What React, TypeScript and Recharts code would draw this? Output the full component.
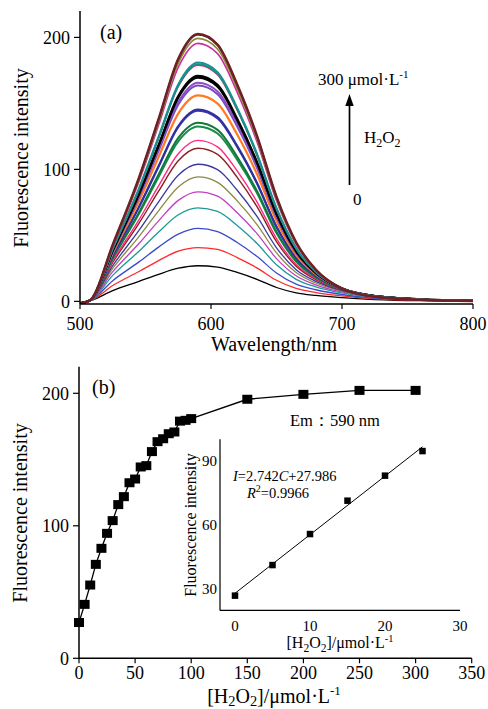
import React from 'react';
import { LineChart, Line, XAxis, YAxis } from 'recharts';

// ---------- (a) emission spectra ----------
const wavelengths = [500, 508, 525, 545, 560, 575, 590, 605, 620, 635, 650, 665, 680, 700, 725, 760, 800];

const spectra: number[][] = [
  [-1, 0.5, 8.1, 15.1, 20.5, 25.1, 27, 25.9, 21.9, 16.7, 10.5, 6.5, 4.5, 2.8, 1.4, 0.5, 0.2],
  [-1, 0.5, 12.0, 22.6, 30.9, 38.0, 40.7, 39.4, 33.2, 25.4, 16.0, 9.8, 6.7, 4.1, 1.9, 0.8, 0.3],
  [-1.1, 0.6, 15.7, 29.9, 41.1, 50.9, 55.3, 52.8, 44.6, 34.1, 21.5, 13.0, 8.8, 5.2, 2.5, 1.0, 0.3],
  [-1.1, 0.6, 19.7, 38.0, 52.5, 65.6, 70.9, 68.2, 57.5, 44.0, 27.7, 16.7, 11.0, 6.4, 3.0, 1.2, 0.4],
  [-1.2, 0.7, 22.5, 43.8, 61.0, 76.5, 83, 79.7, 67.2, 51.5, 32.4, 19.4, 12.5, 7.1, 3.3, 1.3, 0.4],
  [-1.2, 0.7, 25.0, 49.1, 68.6, 86.6, 94.3, 90.2, 76.1, 58.3, 36.7, 21.8, 13.9, 7.7, 3.5, 1.4, 0.5],
  [-1.3, 0.7, 27.1, 53.7, 75.4, 95.6, 103.9, 99.8, 84.2, 64.5, 40.6, 24.0, 15.2, 8.2, 3.7, 1.4, 0.5],
  [-1.3, 0.8, 29.5, 59.1, 83.5, 106.5, 116, 111.4, 94.0, 71.9, 45.2, 26.7, 16.5, 8.7, 3.9, 1.5, 0.5],
  [-1.3, 0.8, 30.6, 61.7, 87.5, 111.9, 122, 117.1, 98.8, 75.6, 47.6, 27.9, 17.2, 8.9, 3.9, 1.5, 0.5],
  [-1.4, 0.8, 32.6, 66.3, 94.3, 121.3, 132.5, 127.2, 107.3, 82.2, 51.7, 30.2, 18.2, 9.3, 4.0, 1.5, 0.5],
  [-1.4, 0.8, 33.1, 67.4, 96.2, 123.8, 135.3, 129.9, 109.6, 83.9, 52.8, 30.8, 18.5, 9.3, 4.0, 1.5, 0.5],
  [-1.4, 0.9, 34.7, 71.2, 102.0, 132.0, 144.4, 138.6, 117.0, 89.5, 56.3, 32.7, 19.4, 9.5, 4.0, 1.5, 0.5],
  [-1.4, 0.9, 34.8, 71.6, 102.7, 132.9, 145.4, 139.6, 117.8, 90.1, 56.7, 32.9, 19.5, 9.5, 4.0, 1.5, 0.5],
  [-1.5, 0.9, 36.5, 75.9, 109.4, 142.3, 156, 149.8, 126.4, 96.7, 60.8, 35.1, 20.4, 9.7, 4.0, 1.5, 0.4],
  [-1.5, 0.9, 37.6, 78.9, 114.1, 149.0, 163.5, 157.0, 132.4, 101.4, 63.8, 36.7, 21.1, 9.8, 4.0, 1.5, 0.4],
  [-1.5, 0.9, 37.9, 79.7, 115.5, 151.0, 165.7, 159.1, 134.2, 102.7, 64.6, 37.2, 21.3, 9.8, 4.0, 1.5, 0.4],
  [-1.5, 1.0, 38.5, 81.2, 117.8, 154.3, 169.5, 162.7, 137.3, 105.1, 66.1, 37.9, 21.6, 9.8, 3.9, 1.5, 0.4],
  [-1.5, 1.0, 38.7, 81.7, 118.6, 155.5, 170.8, 164.0, 138.3, 105.9, 66.6, 38.2, 21.7, 9.8, 3.9, 1.5, 0.4],
  [-1.6, 1.0, 39.8, 84.8, 123.7, 162.8, 179, 171.8, 145.0, 111.0, 69.8, 39.9, 22.3, 9.8, 3.8, 1.4, 0.4],
  [-1.6, 1.0, 39.9, 85.0, 124.0, 163.3, 179.6, 172.4, 145.5, 111.4, 70.0, 40.0, 22.4, 9.8, 3.8, 1.4, 0.4],
  [-1.6, 1.0, 40.0, 85.5, 124.8, 164.4, 180.9, 173.7, 146.5, 112.2, 70.6, 40.3, 22.5, 9.8, 3.8, 1.4, 0.4],
  [-1.7, 1.0, 41.8, 90.8, 133.6, 177.3, 195.5, 187.7, 158.4, 121.2, 76.2, 43.2, 23.5, 9.7, 3.6, 1.3, 0.3],
  [-1.7, 1.0, 42.2, 92.1, 135.8, 180.6, 199.2, 191.2, 161.4, 123.5, 77.7, 43.9, 23.7, 9.6, 3.6, 1.3, 0.3],
  [-1.7, 1.0, 42.6, 93.1, 137.9, 183.2, 202.2, 194.1, 163.8, 125.4, 78.9, 44.5, 23.9, 9.6, 3.5, 1.2, 0.3],
  [-1.8, 1.0, 43.0, 93.8, 138.3, 183.8, 202.6, 194.5, 164.3, 125.8, 79.3, 44.8, 24.1, 9.7, 3.5, 1.2, 0.3],
];

const spectrumColors = [
  '#000000', '#ff2a2a', '#3a4ac8', '#1a9a9a', '#c040c0', '#8a8a40', '#3a3a9a', '#8a2020',
  '#ff2a80', '#1a8a4a', '#107a3a', '#3a3aaa', '#3030a0', '#ff7a20', '#7a4ab8', '#8a50c8',
  '#000000', '#000000', '#e03050', '#208a90', '#1a9090', '#cc30a0', '#8a8a30', '#303080', '#702020',
];
const spectrumWidths = [
  1.3, 1.3, 1.3, 1.3, 1.3, 1.3, 1.3, 1.4, 1.4, 2, 2, 2, 2, 2.2, 2, 2,
  2.2, 2.2, 1.6, 2, 2, 1.6, 1.8, 1.8, 2.4,
];

const topXTicks = [500, 600, 700, 800];
const topYTicks = [0, 100, 200];

// ---------- (b) intensity vs concentration ----------
const concentrations = [0, 5, 10, 15, 20, 25, 30, 35, 40, 45, 50, 55, 60, 65, 70, 75, 80, 85, 90, 95, 100, 150, 200, 250, 300];
const intensities = [27, 40.7, 55.3, 70.9, 83, 94.3, 103.9, 116, 122, 132.5, 135.3, 144.4, 145.4, 156, 163.5, 165.7, 169.5, 170.8, 179, 179.6, 180.9, 195.5, 199.2, 202.2, 202.2];
const bottomXTicks = [0, 50, 100, 150, 200, 250, 300, 350];
const bottomYTicks = [0, 100, 200];

// ---------- inset ----------
const insetConc = [0, 5, 10, 15, 20, 25];
const insetIntensity = [26.9, 41.2, 55.7, 71.3, 83.0, 94.5];
const fitConc = [0, 25];
const fitIntensity = [28.0, 96.5];
const insetXTicks = [0, 10, 20, 30];
const insetYTicks = [30, 60, 90];

const FONT = 'Liberation Serif, DejaVu Serif, serif';

const spectrumData = wavelengths.map((wl, i) => {
  const row: Record<string, number> = { wl };
  spectra.forEach((s, k) => {
    row['s' + k] = s[i];
  });
  return row;
});
const bottomData = concentrations.map((c, i) => ({ c, v: intensities[i] }));
const insetData = insetConc.map((c, i) => ({ c, v: insetIntensity[i] }));
const fitData = fitConc.map((c, i) => ({ c, v: fitIntensity[i] }));

const axisLine = { stroke: '#000', strokeWidth: 1.5 };
const tickLine = { stroke: '#000', strokeWidth: 1.2 };
const bigTick = { fill: '#000', fontSize: 18, style: { fontFamily: FONT } };
const smallTick = { fill: '#000', fontSize: 15, style: { fontFamily: FONT } };
const txt = { fontFamily: FONT };

const square = (w: number, h: number) => (props: any) => {
  const { cx, cy, index } = props;
  if (cx == null || cy == null) return <g key={`e-${index}`} />;
  return <rect key={`sq-${index}`} x={cx - w / 2} y={cy - h / 2} width={w} height={h} fill="#000" />;
};

const H2O2Label = ({ x, y, size, sub, sup }: { x: number; y: number; size: number; sub: number; sup: number }) => (
  <text x={x} y={y} textAnchor="middle" fontSize={size} style={txt} fill="#000">
    [H
    <tspan dy={sub} fontSize={size * 0.72}>2</tspan>
    <tspan dy={-sub}>O</tspan>
    <tspan dy={sub} fontSize={size * 0.72}>2</tspan>
    <tspan dy={-sub}>]/μmol·L</tspan>
    <tspan dy={-sup} fontSize={size * 0.65}>-1</tspan>
  </text>
);

export default function App() {
  return (
    <div style={{ position: 'absolute', left: 0, top: 0, width: 488, height: 709, background: '#fff', fontFamily: FONT }}>
      <div style={{ position: 'absolute', left: 0, top: 0 }}>
        <LineChart width={488} height={360} data={spectrumData} margin={{ top: 11, right: 15, bottom: 26, left: 0 }}>
          <XAxis
            dataKey="wl"
            type="number"
            domain={[500, 800]}
            ticks={topXTicks}
            height={30}
            tickSize={5}
            tickMargin={8}
            axisLine={axisLine}
            tickLine={tickLine}
            tick={bigTick}
            allowDataOverflow
          />
          <YAxis
            type="number"
            domain={[-2, 220]}
            ticks={topYTicks}
            width={80}
            tickSize={6}
            tickMargin={4}
            axisLine={axisLine}
            tickLine={tickLine}
            tick={bigTick}
            allowDataOverflow
          />
          {spectra.map((_, k) => (
            <Line
              key={k}
              dataKey={'s' + k}
              type="monotone"
              stroke={spectrumColors[k]}
              strokeWidth={spectrumWidths[k]}
              dot={false}
              isAnimationActive={false}
            />
          ))}
        </LineChart>
      </div>

      <div style={{ position: 'absolute', left: 0, top: 355 }}>
        <LineChart width={488} height={354} data={bottomData} margin={{ top: 11.8, right: 16.3, bottom: 20.7, left: 0 }}>
          <XAxis
            dataKey="c"
            type="number"
            domain={[0, 350]}
            ticks={bottomXTicks}
            height={30}
            tickSize={5}
            tickMargin={3}
            axisLine={axisLine}
            tickLine={tickLine}
            tick={bigTick}
          />
          <YAxis
            type="number"
            domain={[0, 220]}
            ticks={bottomYTicks}
            width={79}
            tickSize={6}
            tickMargin={4}
            axisLine={axisLine}
            tickLine={tickLine}
            tick={bigTick}
          />
          <Line dataKey="v" type="linear" stroke="#000" strokeWidth={1.3} dot={square(10, 9)} isAnimationActive={false} />
        </LineChart>
      </div>

      <div style={{ position: 'absolute', left: 150, top: 430 }}>
        <LineChart width={320} height={230} margin={{ top: 9.3, right: 10, bottom: 19.6, left: 0 }}>
          <XAxis
            dataKey="c"
            type="number"
            domain={[-2, 30]}
            ticks={insetXTicks}
            height={30}
            tickSize={0}
            tickMargin={10}
            axisLine={{ stroke: '#000', strokeWidth: 1.2 }}
            tickLine={false}
            tick={smallTick}
            allowDataOverflow
          />
          <YAxis
            type="number"
            domain={[20, 100]}
            ticks={insetYTicks}
            width={70}
            tickSize={0}
            tickMargin={3}
            axisLine={{ stroke: '#000', strokeWidth: 1.2 }}
            tickLine={false}
            tick={smallTick}
            allowDataOverflow
          />
          <Line data={fitData} dataKey="v" type="linear" stroke="#000" strokeWidth={1} dot={false} isAnimationActive={false} />
          <Line data={insetData} dataKey="v" type="linear" stroke="none" dot={square(6.5, 6.5)} isAnimationActive={false} />
        </LineChart>
      </div>

      <svg width={488} height={709} style={{ position: 'absolute', left: 0, top: 0, pointerEvents: 'none', fontFamily: FONT }}>
        {/* (a) titles */}
        <text transform="translate(28,158) rotate(-90)" textAnchor="middle" fontSize={20} style={txt} fill="#000">
          Fluorescence intensity
        </text>
        <text x={274} y={351} textAnchor="middle" fontSize={20} style={txt} fill="#000">
          Wavelength/nm
        </text>
        <text x={100} y={39} fontSize={20} style={txt} fill="#000">(a)</text>
        <text x={318} y={85} fontSize={17} style={txt} fill="#000">
          300 μmol·L<tspan dy={-7} fontSize={11}>-1</tspan>
        </text>
        <line x1={349.5} y1={185} x2={349.5} y2={104} stroke="#000" strokeWidth={1.7} />
        <polygon points="349.5,94 345.3,106 353.7,106" fill="#000" />
        <text x={364} y={143} fontSize={17} style={txt} fill="#000">
          H<tspan dy={4} fontSize={12}>2</tspan>
          <tspan dy={-4}>O</tspan>
          <tspan dy={4} fontSize={12}>2</tspan>
        </text>
        <text x={353} y={205} fontSize={17} style={txt} fill="#000">0</text>

        {/* (b) titles */}
        <text transform="translate(27,513) rotate(-90)" textAnchor="middle" fontSize={20} style={txt} fill="#000">
          Fluorescence intensity
        </text>
        <H2O2Label x={274} y={702.5} size={20} sub={3} sup={8} />
        <text x={92} y={394} fontSize={20} style={txt} fill="#000">(b)</text>
        <text x={290} y={426} fontSize={16.5} style={txt} fill="#000">Em：590 nm</text>

        {/* inset titles */}
        <text transform="translate(196,525) rotate(-90)" textAnchor="middle" fontSize={16} style={txt} fill="#000">
          Fluorescence intensity
        </text>
        <H2O2Label x={340} y={648} size={16} sub={3.5} sup={6.5} />
        <text x={233} y={481} fontSize={14.5} style={txt} fill="#000">
          <tspan fontStyle="italic">I</tspan>=2.742<tspan fontStyle="italic">C</tspan>+27.986
        </text>
        <text x={247} y={498} fontSize={14.5} style={txt} fill="#000">
          <tspan fontStyle="italic">R</tspan>
          <tspan dy={-6} fontSize={10}>2</tspan>
          <tspan dy={6}>=0.9966</tspan>
        </text>
      </svg>
    </div>
  );
}
